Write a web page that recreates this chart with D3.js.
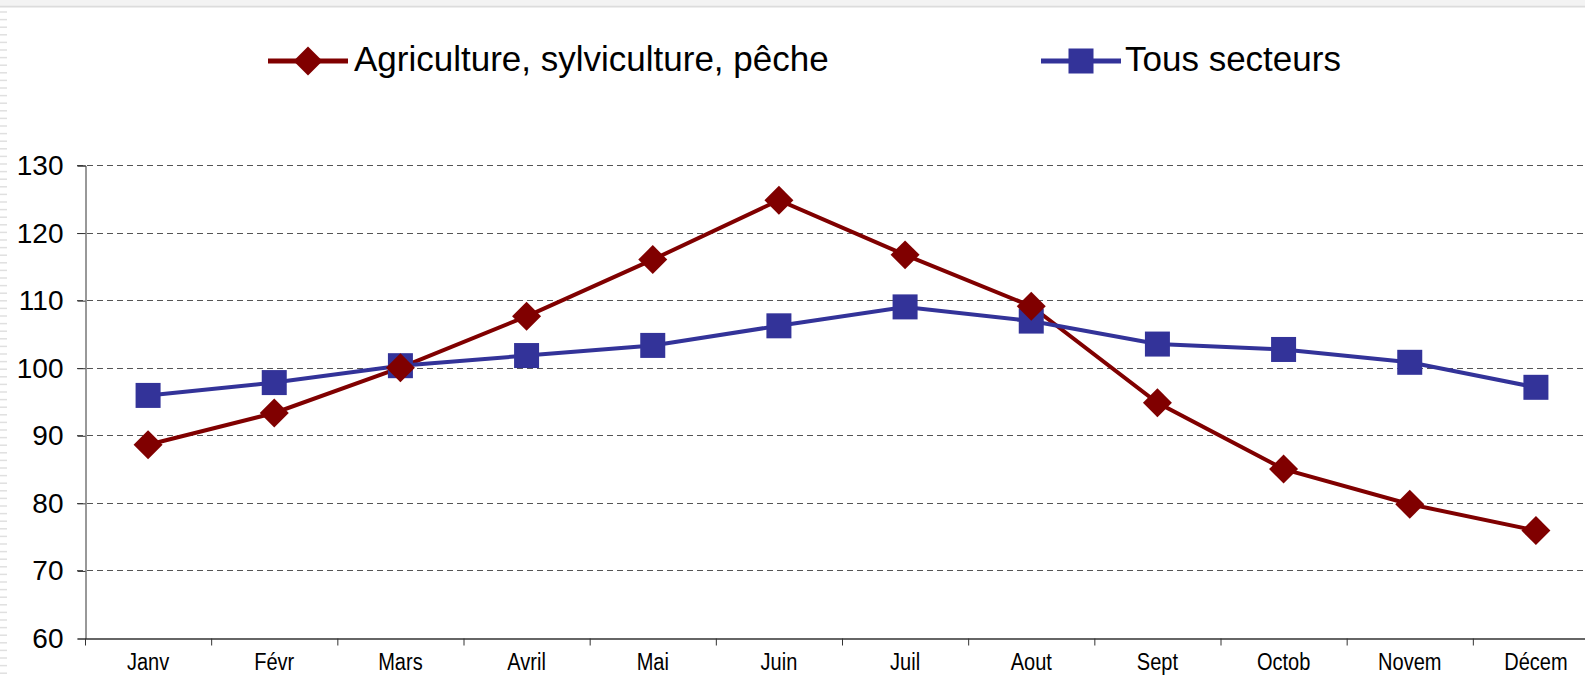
<!DOCTYPE html>
<html lang="fr">
  <head>
    <meta charset="utf-8">
    <script src="https://d3js.org/d3.v7.min.js"></script>
    <style>
      body {margin: 0; background: #fff; overflow: hidden;}
      text {font-family: "Liberation Sans", Arial, sans-serif; fill: #000;}
    </style>
  </head>
  <body>
    <script type="text/javascript">
      // data
      const months = ["Janv", "Févr", "Mars", "Avril", "Mai", "Juin", "Juil", "Aout", "Sept", "Octob", "Novem", "Décem"];
      const agriculture = [88.6, 93.3, 100.0, 107.6, 116.0, 124.8, 116.7, 109.1, 94.8, 85.0, 79.8, 75.9];
      const tousSecteurs = [95.9, 97.8, 100.3, 101.8, 103.3, 106.2, 109.0, 106.9, 103.5, 102.7, 100.8, 97.1];
      const yTicks = [60, 70, 80, 90, 100, 110, 120, 130];
      const seriesNames = ["Agriculture, sylviculture, pêche", "Tous secteurs"];
      const seriesColors = ["#800000", "#333399"];

      // size constants
      const w = 1585;
      const h = 677;
      const plotLeft = 85;
      const plotRight = 1599;
      const plotTop = 165;
      const plotBottom = 638;

      var svg = d3.select("body")
            .append("svg")
            .attr("width", w)
            .attr("height", h);

      // slide frame leftovers (top line and left striped edge)
      svg.append("rect").attr("x", 0).attr("y", 0).attr("width", w).attr("height", 8).attr("fill", "#f3f3f3");
      svg.append("line").attr("x1", 0).attr("x2", w).attr("y1", 6.5).attr("y2", 6.5)
          .attr("stroke", "#dcdcdc").attr("stroke-width", 1.5);
      svg.append("g").selectAll("line")
          .data(d3.range(12, h, 7.6))
          .enter()
          .append("line")
          .attr("x1", 0).attr("x2", 7)
          .attr("y1", d => d).attr("y2", d => d)
          .attr("stroke", "#e0e0e0").attr("stroke-width", 1.5);

      // scales
      var xScale = d3.scaleBand()
            .domain(months)
            .range([plotLeft, plotRight]);
      var yScale = d3.scaleLinear()
            .domain([60, 130])
            .range([plotBottom, plotTop]);

      // dashed gridlines
      svg.append("g")
          .selectAll("line")
          .data(yTicks.filter(d => d > 60))
          .enter()
          .append("line")
          .attr("x1", plotLeft - 8)
          .attr("x2", w)
          .attr("y1", d => Math.round(yScale(d)) + 0.5)
          .attr("y2", d => Math.round(yScale(d)) + 0.5)
          .attr("stroke", "#555")
          .attr("stroke-width", 1)
          .attr("stroke-dasharray", "6,4");

      // y axis
      var yAxis = d3.axisLeft(yScale)
            .tickValues(yTicks)
            .tickSize(8)
            .tickPadding(14);
      var gy = svg.append("g")
          .attr("transform", "translate(" + (plotLeft + 0.5) + ",0.5)")
          .call(yAxis);
      gy.select(".domain").attr("stroke", "#333");
      gy.selectAll(".tick line").attr("stroke", "#333");
      gy.selectAll("text")
          .style("font-family", "'Liberation Sans', Arial, sans-serif")
          .style("font-size", "28px")
          .attr("fill", "#000");

      // x axis with ticks between categories
      var xAxis = d3.axisBottom(xScale)
            .tickSize(0)
            .tickPadding(32)
            .tickSizeOuter(0);
      var gx = svg.append("g")
          .attr("transform", "translate(0," + (plotBottom + 0.5) + ")")
          .call(xAxis);
      gx.select(".domain").attr("stroke", "#333").attr("stroke-width", 1.5);
      // labels are a bit condensed in the original
      gx.selectAll("text")
          .style("font-family", "'Liberation Sans', Arial, sans-serif")
          .style("font-size", "23px")
          .attr("dy", 0)
          .attr("transform", "scale(0.87,1)")
          .attr("fill", "#000");
      gx.selectAll(".sep")
          .data(d3.range(months.length + 1))
          .enter()
          .append("line")
          .attr("class", "sep")
          .attr("x1", i => plotLeft + 0.5 + i * xScale.bandwidth())
          .attr("x2", i => plotLeft + 0.5 + i * xScale.bandwidth())
          .attr("y1", 0)
          .attr("y2", 7)
          .attr("stroke", "#333");

      // lines and markers
      const allSeries = [agriculture, tousSecteurs];
      const cx = (d, i) => xScale(months[i]) + xScale.bandwidth() / 2;
      var line = d3.line()
            .x(cx)
            .y(d => yScale(d));

      allSeries.forEach(function(values, s) {
        svg.append("path")
            .datum(values)
            .attr("d", line)
            .attr("fill", "none")
            .attr("stroke", seriesColors[s])
            .attr("stroke-width", 4);
      });

      // draw blue squares first, then red diamonds on top
      svg.append("g")
          .selectAll("rect")
          .data(tousSecteurs)
          .enter()
          .append("rect")
          .attr("x", (d, i) => cx(d, i) - 12.5)
          .attr("y", d => yScale(d) - 12.5)
          .attr("width", 25)
          .attr("height", 25)
          .attr("fill", seriesColors[1]);

      var diamond = d3.symbol().type(d3.symbolSquare).size(420);
      svg.append("g")
          .selectAll("path")
          .data(agriculture)
          .enter()
          .append("path")
          .attr("d", diamond)
          .attr("transform", (d, i) => "translate(" + cx(d, i) + "," + yScale(d) + ") rotate(45)")
          .attr("fill", seriesColors[0]);

      // legend
      const legendX = [268, 1041];
      var legend = svg.append("g");
      seriesNames.forEach(function(name, s) {
        var g = legend.append("g").attr("transform", "translate(" + legendX[s] + ",61)");
        g.append("line")
            .attr("x1", 0).attr("x2", 80)
            .attr("stroke", seriesColors[s])
            .attr("stroke-width", 5);
        if (s === 0) {
          g.append("path")
              .attr("d", d3.symbol().type(d3.symbolSquare).size(420))
              .attr("transform", "translate(40,0) rotate(45)")
              .attr("fill", seriesColors[s]);
        } else {
          g.append("rect")
              .attr("x", 27.5).attr("y", -12.5)
              .attr("width", 25).attr("height", 25)
              .attr("fill", seriesColors[s]);
        }
        g.append("text")
            .attr("x", s === 0 ? 86 : 84)
            .attr("y", 10)
            .style("font-size", "35px")
            .text(name);
      });
    </script>
  </body>
</html>
